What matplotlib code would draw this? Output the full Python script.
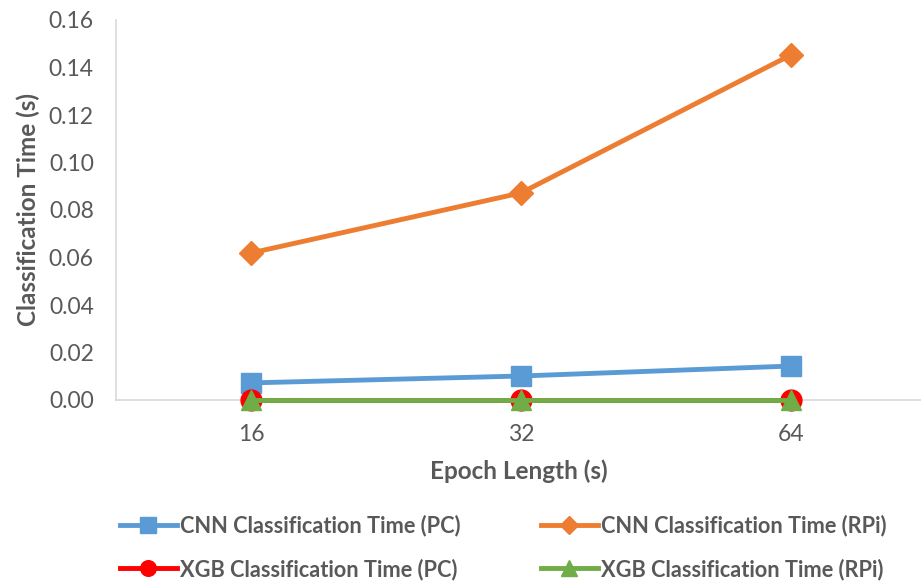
import matplotlib.pyplot as plt

plt.rcParams["font.family"] = ["Lato", "DejaVu Sans"]

epochs = ["16", "32", "64"]
cnn_pc = [0.0072, 0.0101, 0.0143]
cnn_rpi = [0.0619, 0.0872, 0.1453]
xgb_pc = [0.0001, 0.0001, 0.0001]
xgb_rpi = [0.0001, 0.0001, 0.0001]
y_ticks = [0.00, 0.02, 0.04, 0.06, 0.08, 0.10, 0.12, 0.14, 0.16]

GREY = "#595959"
fig = plt.figure(figsize=(9.21, 5.83), dpi=100)
ax = fig.add_axes([116 / 921, 183 / 583, 805 / 921, 380 / 583])

x = range(len(epochs))
series = [
    (cnn_pc, "#5B9BD5", "s", 15, "CNN Classification Time (PC)"),
    (cnn_rpi, "#ED7D31", "D", 12, "CNN Classification Time (RPi)"),
    (xgb_pc, "#FF0000", "o", 15, "XGB Classification Time (PC)"),
    (xgb_rpi, "#70AD47", "^", 15, "XGB Classification Time (RPi)"),
]
lines = []
for vals, color, marker, ms, label in series:
    ln, = ax.plot(x, vals, color=color, marker=marker, markersize=ms, linewidth=3.5,
                  label=label, clip_on=False, zorder=3)
    lines.append(ln)

ax.set_xlim(-0.5, 2.5 - 5 / 270)
ax.set_ylim(0, 0.16)
ax.set_xticks(list(x))
ax.set_xticklabels(epochs)
ax.set_yticks(y_ticks)
ax.set_yticklabels([f"{v:.2f}" for v in y_ticks])
ax.tick_params(axis="both", length=0, labelsize=16.5, colors=GREY)
ax.tick_params(axis="y", pad=16)
ax.tick_params(axis="x", pad=17)

for side in ["top", "right"]:
    ax.spines[side].set_visible(False)
for side in ["left", "bottom"]:
    ax.spines[side].set_color("#D9D9D9")
    ax.spines[side].set_linewidth(1.2)

ax.set_xlabel("Epoch Length (s)", fontsize=17.5, fontweight="bold", color=GREY, labelpad=11)
ax.set_ylabel("Classification Time (s)", fontsize=17.5, fontweight="bold", color=GREY, labelpad=6)

# legend fills row by row: column 1 = PC, column 2 = RPi
order = [lines[0], lines[2], lines[1], lines[3]]
leg = ax.legend(order, [l.get_label() for l in order], loc="center left",
                bbox_to_anchor=(0.005, -0.388), ncol=2, frameon=False,
                fontsize=15.7, handlelength=2.6, handletextpad=0.14, columnspacing=3.7,
                labelspacing=1.0, markerscale=0.75, borderaxespad=0, borderpad=0)
for t in leg.get_texts():
    t.set_color(GREY)
    t.set_fontweight("bold")

fig.savefig("out.png", dpi=100)
